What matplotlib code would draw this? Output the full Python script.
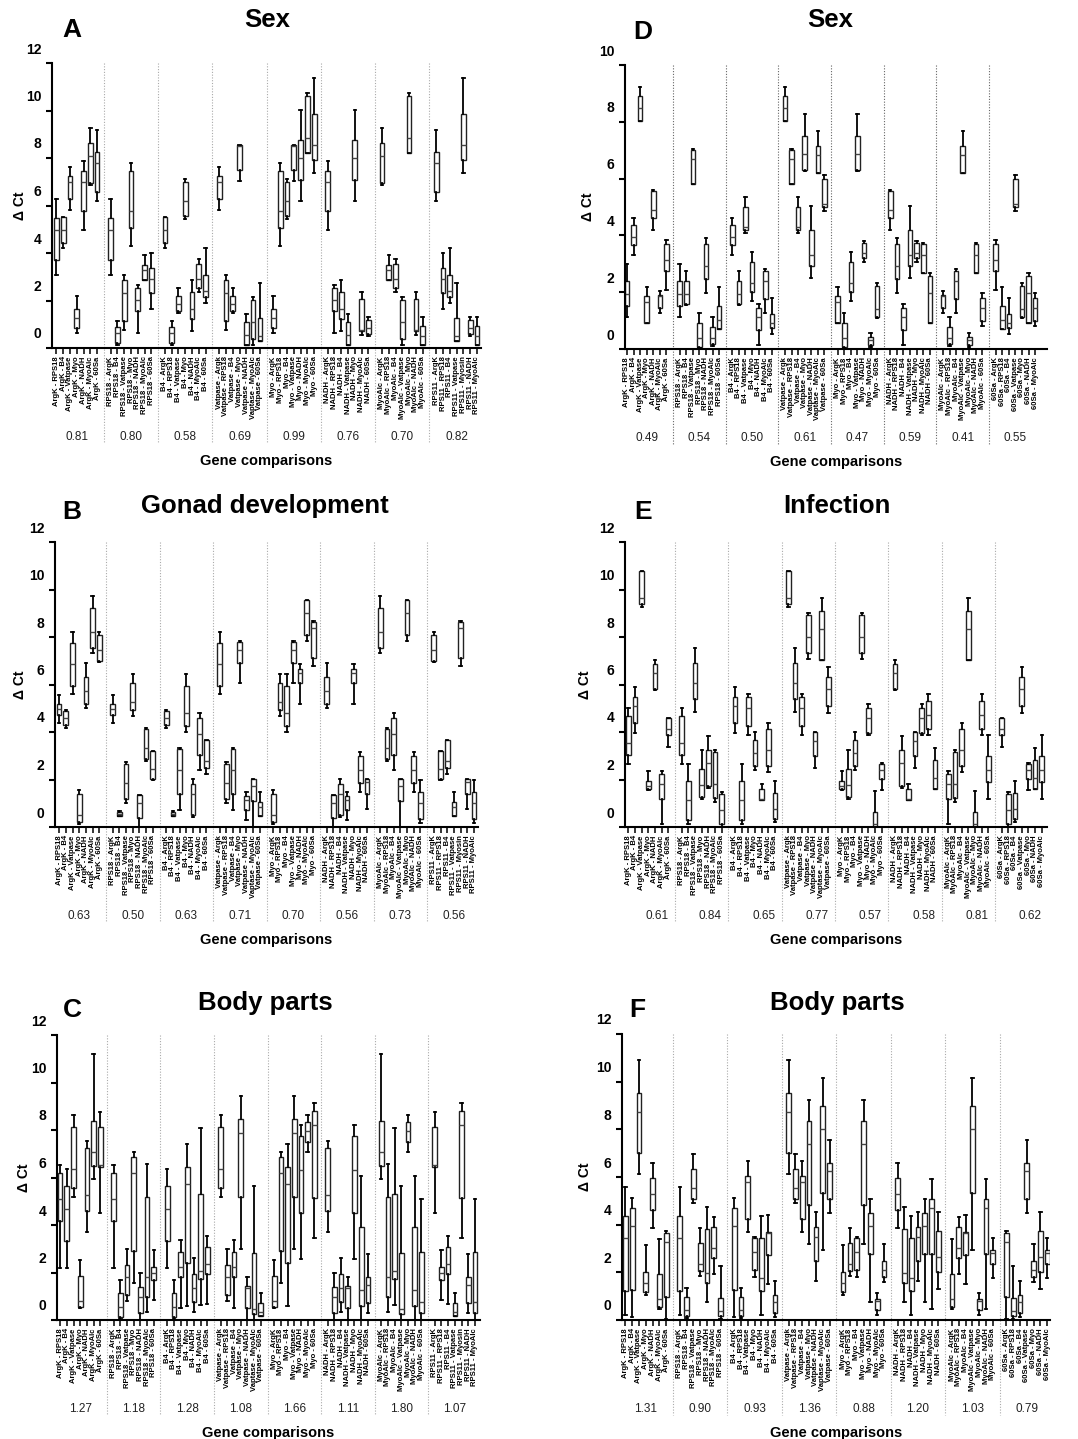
import itertools

import matplotlib
matplotlib.use('Agg')
import matplotlib.pyplot as plt
from matplotlib import transforms

plt.rcParams['font.family'] = ['Liberation Sans', 'DejaVu Sans']

# 基因顺序 (两两比较)
genes = ['ArgK', 'RPS18', 'B4', 'Vatpase', 'Myo', 'NADH', 'MyoAlc', '60Sa']
left_groups = ['ArgK', 'RPS18', 'B4', 'Vatpase', 'Myo', 'NADH', 'MyoAlc', 'RPS11']
right_groups = genes
label_fix = {'Vatpase - ArgK': 'Vatpase - Argk',
             'Vatpase - MyoAlc': 'Vaptase - MyoAlc',
             'RPS11 - Myo': 'RPS11 - Myosin'}

# 每对基因的 ΔCt 箱线统计: (whislo, q1, med, q3, whishi)
# 顺序: ArgK-RPS18, ArgK-B4, ..., ArgK-60Sa, RPS18-B4, ..., MyoAlc-60Sa
sex_a = [
    (3.09, 3.72, 4.95, 5.47, 6.27), (4.21, 4.42, 4.95, 5.52, 5.52), (5.80, 6.27, 6.98, 7.23, 7.62),
    (0.63, 0.84, 1.26, 1.64, 2.18), (4.98, 5.78, 6.98, 7.44, 7.86), (6.88, 6.95, 8.07, 8.63, 9.26),
    (6.18, 6.57, 7.79, 8.24, 9.16),
    (0.14, 0.21, 0.63, 0.87, 1.15), (0.77, 1.12, 2.32, 2.88, 3.09), (4.28, 5.05, 5.75, 7.44, 7.79),
    (0.63, 1.57, 2.04, 2.53, 2.67), (2.88, 2.88, 3.30, 3.48, 3.93), (1.64, 2.32, 2.90, 3.37, 4.00),
    (1.47, 1.54, 1.87, 2.20, 2.53), (5.43, 5.54, 6.18, 6.99, 7.13), (0.73, 1.22, 1.66, 2.34, 2.88),
    (2.36, 2.53, 2.91, 3.54, 3.75), (1.89, 2.13, 2.41, 3.07, 4.21),
    (7.02, 7.51, 8.50, 8.56, 8.56), (0.14, 0.14, 0.56, 1.08, 1.45), (0.14, 0.38, 1.08, 2.04, 2.13),
    (0.28, 0.28, 0.49, 1.26, 2.74),
    (6.20, 7.09, 8.00, 8.77, 10.04), (8.21, 8.21, 8.84, 10.62, 10.74), (7.37, 7.90, 8.56, 9.87, 11.37),
    (0.56, 0.73, 0.77, 2.06, 2.34), (0.52, 0.59, 0.84, 1.16, 1.31),
    (0.14, 0.14, 0.52, 0.91, 1.31),
]
gonad_b = [
    (4.36, 4.71, 4.95, 5.16, 5.56), (4.15, 4.29, 4.57, 4.89, 4.92), (5.58, 5.95, 6.85, 7.74, 8.23),
    (0.14, 0.21, 0.49, 1.41, 1.55), (4.99, 5.20, 5.74, 6.33, 6.92), (7.31, 7.52, 8.23, 9.24, 9.73),
    (6.96, 6.99, 7.45, 8.09, 8.20),
    (0.45, 0.45, 0.56, 0.63, 0.66), (1.01, 1.20, 1.87, 2.67, 2.74), (4.67, 4.92, 5.27, 6.05, 6.44),
    (0.00, 0.38, 1.01, 1.34, 1.36), (2.78, 2.88, 3.31, 4.12, 4.18), (1.97, 2.04, 2.46, 3.19, 3.21),
    (0.73, 1.41, 2.42, 3.28, 3.31), (3.98, 4.26, 4.78, 5.95, 6.43), (0.42, 0.52, 1.41, 1.80, 2.01),
    (2.42, 3.05, 3.90, 4.57, 4.82), (2.25, 2.49, 2.78, 3.66, 3.68),
    (6.05, 6.89, 7.45, 7.81, 7.83), (0.28, 0.70, 1.13, 1.29, 1.48), (0.00, 1.10, 1.72, 2.04, 2.04),
    (0.45, 0.45, 0.84, 1.05, 1.48),
    (5.20, 6.08, 6.47, 6.65, 6.85), (7.85, 8.09, 9.03, 9.54, 9.54), (6.79, 7.10, 8.37, 8.65, 8.69),
    (1.48, 1.87, 2.39, 2.98, 3.14), (0.77, 1.38, 1.90, 2.01, 2.04),
    (0.17, 0.32, 1.01, 1.48, 1.97),
]
body_c = [
    (2.18, 4.18, 5.09, 6.18, 6.53), (2.18, 3.33, 4.67, 5.64, 6.34), (5.16, 5.57, 6.34, 8.11, 8.63),
    (0.49, 0.56, 0.81, 1.87, 2.53), (3.69, 4.60, 5.26, 7.23, 7.54), (5.92, 6.50, 7.09, 8.38, 11.19),
    (4.49, 6.43, 6.53, 8.14, 8.77),
    (0.03, 0.14, 0.56, 1.15, 1.68), (0.81, 1.05, 1.80, 2.32, 2.98), (1.54, 2.92, 6.18, 6.88, 7.06),
    (0.00, 0.28, 0.98, 1.40, 1.96), (0.35, 0.95, 1.82, 5.19, 6.57), (0.84, 1.68, 1.99, 2.22, 2.95),
    (0.49, 1.80, 2.25, 2.88, 3.37), (0.59, 2.41, 5.71, 6.43, 7.41), (0.35, 0.77, 1.33, 1.94, 2.60),
    (0.63, 1.71, 2.06, 5.29, 8.07), (0.67, 1.94, 2.36, 3.06, 3.54),
    (2.98, 5.16, 7.89, 8.45, 9.43), (0.00, 0.52, 1.33, 1.43, 1.80), (0.00, 0.24, 0.45, 2.81, 5.66),
    (0.17, 0.17, 0.35, 0.70, 1.12),
    (2.55, 4.49, 6.32, 7.75, 8.21), (7.06, 7.51, 7.97, 8.32, 8.63), (3.44, 5.12, 8.21, 8.80, 9.12),
    (0.00, 0.59, 1.26, 3.93, 6.06), (0.28, 0.70, 1.47, 1.82, 2.78),
    (0.00, 0.31, 0.77, 2.85, 5.08),
]
sex_d = [
    (1.12, 1.52, 1.93, 2.41, 2.99), (3.32, 3.67, 3.93, 4.38, 4.61), (8.02, 8.02, 8.49, 8.91, 9.22),
    (0.93, 0.93, 1.67, 1.87, 2.18), (4.18, 4.61, 4.91, 5.55, 5.59), (1.26, 1.44, 1.87, 1.91, 2.05),
    (2.08, 2.73, 3.14, 3.69, 3.85),
    (1.55, 1.59, 1.93, 2.41, 2.76), (5.81, 5.81, 6.69, 7.02, 7.05), (0.02, 0.08, 0.38, 0.93, 1.26),
    (1.96, 2.46, 2.91, 3.69, 3.91), (0.11, 0.16, 0.38, 0.76, 1.12), (0.69, 0.69, 1.02, 1.52, 2.18),
    (4.10, 4.20, 4.28, 5.00, 5.35), (1.69, 1.99, 2.32, 3.05, 3.41), (0.14, 0.67, 1.12, 1.44, 1.59),
    (1.28, 1.75, 2.38, 2.73, 2.81), (0.52, 0.73, 0.93, 1.24, 1.79),
    (6.26, 6.32, 6.85, 7.49, 8.28), (2.49, 2.91, 3.32, 4.20, 5.02), (6.20, 6.20, 6.82, 7.14, 7.69),
    (4.85, 5.00, 5.12, 5.99, 6.12),
    (3.08, 3.22, 3.38, 3.75, 3.79), (0.08, 0.14, 0.32, 0.41, 0.55), (1.08, 1.14, 1.40, 2.22, 2.34),
    (2.67, 2.67, 3.32, 3.69, 3.73), (0.91, 0.91, 1.96, 2.58, 2.67),
    (0.81, 1.00, 1.44, 1.79, 1.96),
]
infection_e = [
    (2.67, 3.05, 3.52, 4.68, 4.99), (3.94, 4.39, 5.11, 5.49, 5.88), (9.28, 9.39, 9.63, 10.80, 10.80),
    (1.55, 1.62, 1.72, 1.93, 2.36), (5.77, 5.79, 6.50, 6.85, 7.03), (0.14, 1.20, 1.83, 2.22, 2.36),
    (3.38, 3.87, 4.12, 4.57, 4.60),
    (0.14, 0.31, 1.13, 1.94, 2.67), (4.85, 5.41, 6.05, 6.89, 7.55), (1.17, 1.27, 1.76, 2.43, 3.23),
    (1.66, 1.72, 2.70, 3.26, 3.84), (1.05, 1.24, 1.80, 3.16, 3.26), (0.00, 0.14, 0.73, 1.38, 1.48),
    (3.87, 4.25, 5.02, 5.46, 5.58), (2.42, 2.57, 3.12, 3.66, 4.01), (1.13, 1.15, 1.20, 1.62, 1.83),
    (2.32, 2.56, 3.23, 4.11, 4.39), (0.21, 0.35, 0.77, 1.43, 1.94),
    (7.06, 7.34, 7.99, 8.93, 9.03), (2.50, 2.98, 3.61, 3.98, 4.01), (7.03, 7.03, 8.34, 9.10, 9.66),
    (4.78, 5.09, 5.79, 6.30, 6.72),
    (3.87, 3.94, 4.60, 5.02, 5.20), (0.00, 0.00, 0.14, 0.63, 1.52), (1.55, 2.04, 2.39, 2.67, 2.70),
    (3.87, 4.11, 4.71, 5.30, 5.60), (1.62, 1.62, 2.07, 2.81, 3.31),
    (1.20, 1.90, 2.39, 2.98, 3.87),
]
body_f = [
    (0.21, 1.22, 3.43, 4.36, 5.59), (0.14, 1.26, 3.94, 4.71, 5.10), (6.11, 7.02, 8.74, 9.51, 10.91),
    (1.05, 1.19, 1.54, 2.03, 3.15), (3.85, 4.62, 5.29, 5.97, 6.57), (0.45, 0.56, 0.87, 1.93, 3.38),
    (0.03, 0.98, 3.29, 3.66, 3.75),
    (0.07, 0.17, 0.42, 0.98, 1.33), (4.90, 5.06, 5.52, 6.32, 6.97), (1.85, 2.07, 2.35, 3.24, 3.87),
    (0.77, 1.54, 1.96, 3.80, 4.76), (1.93, 2.59, 3.01, 3.92, 4.31), (0.03, 0.17, 0.39, 0.91, 2.27),
    (3.71, 4.22, 5.80, 6.04, 6.67), (1.79, 2.10, 2.87, 3.45, 3.50), (0.21, 1.23, 1.78, 3.45, 4.36),
    (1.51, 2.73, 3.66, 3.71, 4.41), (0.11, 0.31, 0.77, 1.05, 1.64),
    (3.19, 4.83, 7.37, 8.35, 9.23), (1.65, 2.48, 3.50, 3.92, 4.55), (2.94, 5.31, 8.00, 8.99, 10.14),
    (4.50, 5.06, 6.27, 6.57, 7.55),
    (0.74, 2.77, 3.94, 4.50, 5.06), (0.21, 0.42, 0.81, 0.88, 1.15), (1.58, 1.79, 2.10, 2.48, 3.19),
    (0.45, 2.77, 4.69, 5.08, 5.90), (1.30, 2.00, 2.66, 3.73, 4.55),
    (1.75, 2.35, 2.83, 2.94, 3.45),
]

# 每组的稳定性数值
stab_a = [0.81, 0.80, 0.58, 0.69, 0.99, 0.76, 0.70, 0.82]
stab_b = [0.63, 0.50, 0.63, 0.71, 0.70, 0.56, 0.73, 0.56]
stab_c = [1.27, 1.18, 1.28, 1.08, 1.66, 1.11, 1.80, 1.07]
stab_d = [0.49, 0.54, 0.50, 0.61, 0.47, 0.59, 0.41, 0.55]
stab_e = [0.61, 0.84, 0.65, 0.77, 0.57, 0.58, 0.81, 0.62]
stab_f = [1.31, 0.90, 0.93, 1.36, 0.88, 1.20, 1.03, 0.79]

W, H = 1078, 1439
fig = plt.figure(figsize=(W / 100, H / 100), dpi=100)
pairs = list(itertools.combinations(range(8), 2))


def group_boxes(stats, g):
    out = []
    for o in range(8):
        if o == g:
            continue
        lo, q1, med, q3, hi = stats[pairs.index((min(g, o), max(g, o)))]
        out.append(dict(whislo=lo, q1=q1, med=med, q3=q3, whishi=hi))
    return out


def tick_labels(groups):
    labels = []
    for g, name in enumerate(groups):
        for o, other in enumerate(genes):
            if o == g:
                continue
            s = f'{name} - {other}'
            labels.append(label_fix.get(s, s))
    return labels


def draw_panel(box, xlim, ytop, stats, stab, groups, title, letter, title_xy, letter_xy,
               ylab_x, sep_color='#aaaaaa', num_shift=0.0):
    l, t, r, b = box
    ax = fig.add_axes([l / W, 1 - b / H, (r - l) / W, (b - t) / H])
    axh = b - t

    positions = [8 * g + 1 + j for g in range(8) for j in range(7)]
    boxes = [s for g in range(8) for s in group_boxes(stats, g)]
    ax.bxp(boxes, positions=positions, widths=0.7, capwidths=0.35, showfliers=False,
           patch_artist=True, manage_ticks=False,
           boxprops=dict(facecolor='white', edgecolor='#222222', linewidth=1.0),
           medianprops=dict(color='#444444', linewidth=1.0),
           whiskerprops=dict(color='black', linewidth=1.3),
           capprops=dict(color='black', linewidth=1.3))

    ax.set_xlim(*xlim)
    ax.set_ylim(0, ytop)
    ax.tick_params(axis='y', direction='out', length=4.5, width=1.5, pad=3)
    ax.tick_params(axis='x', direction='out', length=4, width=1.1, pad=2)
    ax.set_xticks(positions)
    ax.set_xticklabels(tick_labels(groups), rotation=90, fontsize=5.5, fontweight='bold')
    yt = list(range(0, ytop + 1, 2))
    ax.set_yticks(yt)
    ax.set_yticklabels([str(v) for v in yt], fontsize=10, fontweight='bold')
    # 纵轴刻度数字整体上移
    shift = transforms.ScaledTranslation(0, 15 / 100, fig.dpi_scale_trans)
    for lab in ax.get_yticklabels():
        lab.set_transform(lab.get_transform() + shift)
    for side in ['top', 'right']:
        ax.spines[side].set_visible(False)
    for side in ['left', 'bottom']:
        ax.spines[side].set_linewidth(1.5)

    trans = transforms.blended_transform_factory(ax.transData, ax.transAxes)
    for g in range(1, 8):
        ax.plot([8 * g, 8 * g], [1, -95 / axh], transform=trans, clip_on=False,
                ls=(0, (1, 1.5)), color=sep_color, lw=0.8)
    for g, v in enumerate(stab):
        ax.text(8 * g + 4 + num_shift, -89 / axh, f'{v:.2f}', transform=trans,
                ha='center', va='center', fontsize=8.5, color='#222222')
    ax.text(0.5, -113 / axh, 'Gene comparisons', transform=ax.transAxes,
            ha='center', va='center', fontsize=10.5, fontweight='bold')

    fig.text(ylab_x / W, 1 - (t + b) / 2 / H, 'Δ Ct', rotation=90, ha='center', va='center',
             fontsize=10, fontweight='bold')
    fig.text(title_xy[0] / W, 1 - title_xy[1] / H, title, ha='center', va='center',
             fontsize=18.5, fontweight='bold')
    fig.text(letter_xy[0] / W, 1 - letter_xy[1] / H, letter, ha='center', va='center',
             fontsize=19, fontweight='bold')
    return ax


draw_panel((52, 63, 481, 348), (0.35, 63.6), 12, sex_a, stab_a, left_groups,
           'Sex', 'A', (267, 20), (72, 30), 20)
draw_panel((55, 542, 478, 827), (0.38, 63.6), 12, gonad_b, stab_b, left_groups,
           'Gonad development', 'B', (265, 506), (72, 512), 20)
draw_panel((57, 1035, 480, 1320), (0.53, 63.76), 12, body_c, stab_c, left_groups,
           'Body parts', 'C', (265, 1003), (72, 1010), 24)
draw_panel((625, 65, 1047, 349), (0.7, 64.8), 10, sex_d, stab_d, right_groups,
           'Sex', 'D', (830, 20), (643, 32), 588, sep_color='#666666')
draw_panel((625, 542, 1047, 827), (0.5, 63.8), 12, infection_e, stab_e, right_groups,
           'Infection', 'E', (837, 506), (643, 512), 585, num_shift=1.3)
draw_panel((622, 1034, 1050, 1320), (0.51, 63.4), 12, body_f, stab_f, right_groups,
           'Body parts', 'F', (837, 1003), (637, 1010), 585)

fig.savefig('out.png', dpi=100, facecolor='white')
